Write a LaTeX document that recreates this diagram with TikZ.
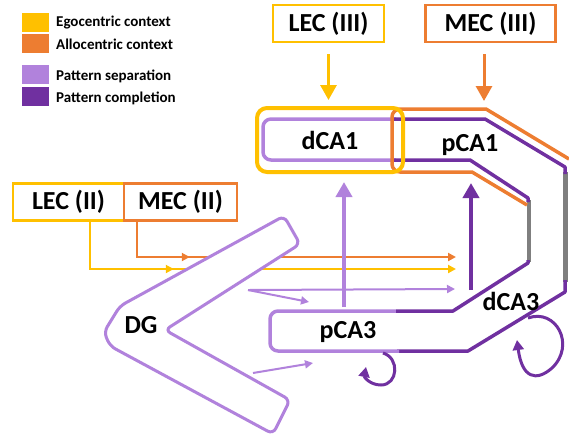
\documentclass[tikz,border=0pt]{standalone}
\usepackage{fontspec}
\setmainfont{Carlito}
\usepackage{tikz}
\usetikzlibrary{
  arrows.meta,
  decorations.markings
}
\definecolor{egoclr}{RGB}{255, 192,   0}
\definecolor{alloclr}{RGB}{237, 125,  49}
\definecolor{sepclr}{RGB}{177, 130, 220}
\definecolor{compclr}{RGB}{112,  48, 160}
\definecolor{wallclr}{RGB}{127, 127, 127}
\tikzset{
  % Kirish qutilari (entorhinal)
  ecbox/.style   = {draw=#1, line width=2.5pt, fill=white, inner sep=0pt,
                    minimum height=37pt, font=\fontsize{26}{28}\selectfont\bfseries},
  % Soha nomlari
  reglab/.style  = {inner sep=0pt, font=\fontsize{26}{28}\selectfont\bfseries},
  % Legenda
  legbox/.style  = {fill=#1, inner sep=0pt, minimum width=27pt, minimum height=19pt},
  leglab/.style  = {anchor=west, inner sep=0pt, font=\fontsize{15}{17}\selectfont\bfseries},
  % Chiziqlar
  band/.style    = {line width=3.5pt, line join=round},
  wall/.style    = {line width=4.5pt},
  thinarr/.style = {line width=2pt, -{Triangle[width=8pt,length=8pt]}},
  fatarr/.style  = {line width=4pt, -{Triangle[width=16pt,length=15pt]}},
  looparr/.style = {draw=compclr, line width=3pt, -{Triangle[width=11pt,length=10pt]}},
  midtip/.style  = {postaction=decorate, decoration={markings,
                    mark=at position #1 with {\arrow{Triangle[width=8pt,length=8pt]}}}},
}

\begin{document}
\begin{tikzpicture}[x=1pt, y=-1pt]
  \useasboundingbox (0,0) rectangle (569,437);
  % Legenda
  \node[legbox=egoclr]  (legEgo)  at (35.5,22.5) {};
  \node[legbox=alloclr] (legAllo) at (35.5,43)   {};
  \node[legbox=sepclr]  (legSep)  at (35.5,74.5) {};
  \node[legbox=compclr] (legComp) at (35.5,96)   {};
  \node[leglab] (txtEgo)  at (56,22.5) {Egocentric context};
  \node[leglab] (txtAllo) at (56,44)   {Allocentric context};
  \node[leglab] (txtSep)  at (56,76.5) {Pattern separation};
  \node[leglab] (txtComp) at (56,98.5) {Pattern completion};
  % Kirish qutilari
  \node[ecbox=egoclr,  minimum width=111pt] (LEC3) at (328.5,23.5) {LEC (III)};
  \node[ecbox=alloclr, minimum width=130pt] (MEC3) at (490.5,23.5) {MEC (III)};
  \node[ecbox=egoclr,  minimum width=111pt] (LEC2) at (68.5,202)   {LEC (II)};
  \node[ecbox=alloclr, minimum width=113pt] (MEC2) at (180.5,202)  {MEC (II)};
  % CA1 -- CA3 tasmasi
  \draw[sepclr, band, rounded corners=8pt]
    (396,119) -- (263,119) -- (263,160) -- (396,160);
  \draw[wallclr, wall] (565.5,172) -- (565.5,282);
  \draw[wallclr, wall] (529,262) -- (529,200);
  \draw[compclr, band] (393,119) -- (485,119) -- (565,167) -- (565,174);
  \draw[compclr, band] (565,280) -- (565,292) -- (468,351) -- (397,351);
  \draw[sepclr, band, rounded corners=8pt]
    (399,351) -- (270,351) -- (270,311) -- (396,311);
  \draw[compclr, band] (396,311) -- (453,311) -- (528,263) -- (528,260);
  \draw[compclr, band] (528,202) -- (528,198) -- (470,160) -- (393,160);
  % pCA1 (allocentric) chegarasi
  \draw[alloclr, band] (569,159) -- (486,109) -- (440,109)
    [rounded corners=8pt] -- (392,109) -- (392,172) -- (440,172)
    [sharp corners] -- (472,172) -- (527,205);
  % dCA1 (egocentric) qutisi
  \node[draw=egoclr, line width=4pt, rounded corners=10pt, inner sep=0pt,
        minimum width=146pt, minimum height=64pt, reglab] (dCA1) at (330,140) {dCA1};
  \node[reglab] (pCA1) at (470,145) {pCA1};
  \node[reglab] (pCA3) at (348,332) {pCA3};
  \node[reglab] (dCA3) at (511,301) {dCA3};
  % Nuqtalar
  \coordinate (ca3o) at (456,257);
  \coordinate (ca3y) at (456,269);
  \coordinate (ca3s) at (455,289);
  \coordinate (dgA)  at (248,290);
  \coordinate (dgB)  at (253,373);
  \coordinate (pCA3in) at (309,302);
  \coordinate (pCA3lo) at (313,363);
  \coordinate (pCA1in) at (484,109);
  \coordinate (pCA3up) at (344,307);
  \coordinate (dCA3up) at (471,290);
  \coordinate (pCA1lo) at (471,183);
  % Perforant yo'l (II)
  \draw[alloclr, thinarr, midtip=88pt] ([xshift=-43.5pt]MEC2.south) |- (ca3o);
  \draw[egoclr, thinarr, midtip=131pt] ([xshift=21.5pt]LEC2.south) |- (ca3y);
  % DG
  \draw[sepclr, line width=3pt, fill=white, rounded corners=6pt]
    (120,306) -- (284,216) -- (300,244) -- (165,330) -- (290,400)
    -- (273,434) -- (110,346) -- (104,332) -- cycle;
  \node[reglab] (DG) at (141,325) {DG};
  \draw[sepclr, thinarr] (dgA) -- (ca3s);
  \draw[sepclr, thinarr] (dgA) -- (pCA3in);
  \draw[sepclr, thinarr] (dgB) -- (pCA3lo);
  % Perforant yo'l (III)
  \draw[egoclr, fatarr, line width=3pt, shorten <=11pt, shorten >=6pt]
    (LEC3.south) -- (LEC3.south |- dCA1.north);
  \draw[alloclr, fatarr, line width=3pt, shorten <=11pt, shorten >=8pt]
    (MEC3.south -| pCA1in) -- (pCA1in);
  % Schaffer kollateral
  \draw[sepclr, fatarr, shorten >=8pt] (pCA3up) -- (pCA3up |- dCA1.south);
  \draw[compclr, fatarr] (dCA3up) -- (pCA1lo);
  % Rekurrent halqalar
  \draw[looparr] (383,353) .. controls (400,358) and (398,385) .. (381,385)
    .. controls (370,385) and (364,377) .. (366,367);
  \draw[looparr] (528,318) .. controls (556,308) and (576,345) .. (552,368)
    .. controls (536,382) and (522,378) .. (517,340);
\end{tikzpicture}
\end{document}
